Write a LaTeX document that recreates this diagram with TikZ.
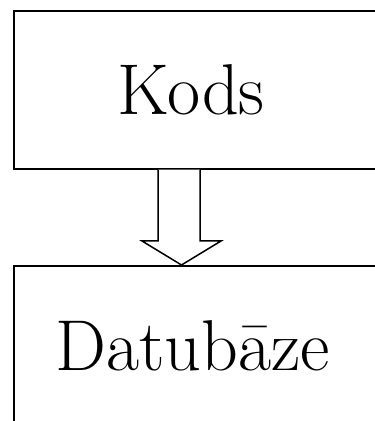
\documentclass[tikz,border=0pt]{standalone}
\usepackage{fontspec}
\usetikzlibrary{calc}
\begin{document}
\begin{tikzpicture}[x=1pt,y=1pt,
  box/.style={draw=black,line width=1.7pt,rectangle,inner sep=0pt,fill=white},
  boxtext/.style={font=\rmfamily\fontsize{72}{78}\selectfont,anchor=base,inner sep=0pt},
  blockarrow/.style={draw=black,line width=1.5pt,fill=white,line join=miter}]
  \useasboundingbox (0,0) rectangle (375,421);
  \clip (0,0) rectangle (375,421);
  \fill[white] (0,0) rectangle (375,421);
  % upper box, running off the right edge
  \node[box,minimum width=377pt,minimum height=157.5pt,anchor=north west] (kodsbox) at (13,410.5) {};
  % lower box, running off the right and bottom edges
  \node[box,minimum width=377pt,minimum height=180pt,anchor=north west] (dbbox) at (13,156) {};
  \node[boxtext] (kods) at (191,306) {Kods};
  \node[boxtext] (db) at (192.5,50.3) {Datubāze};
  % hollow block arrow from the upper box to the lower box
  \coordinate (tip) at (dbbox.north -| 181.5,0);
  \coordinate (root) at (kodsbox.south -| 181.5,0);
  \draw[blockarrow] ($(root)+(-23.5,0)$) -- ($(tip)+(-23.5,24)$) -- ($(tip)+(-39.5,24)$)
    -- (tip) -- ($(tip)+(39.5,24)$) -- ($(tip)+(18.5,24)$) -- ($(root)+(18.5,0)$);
\end{tikzpicture}
\end{document}
